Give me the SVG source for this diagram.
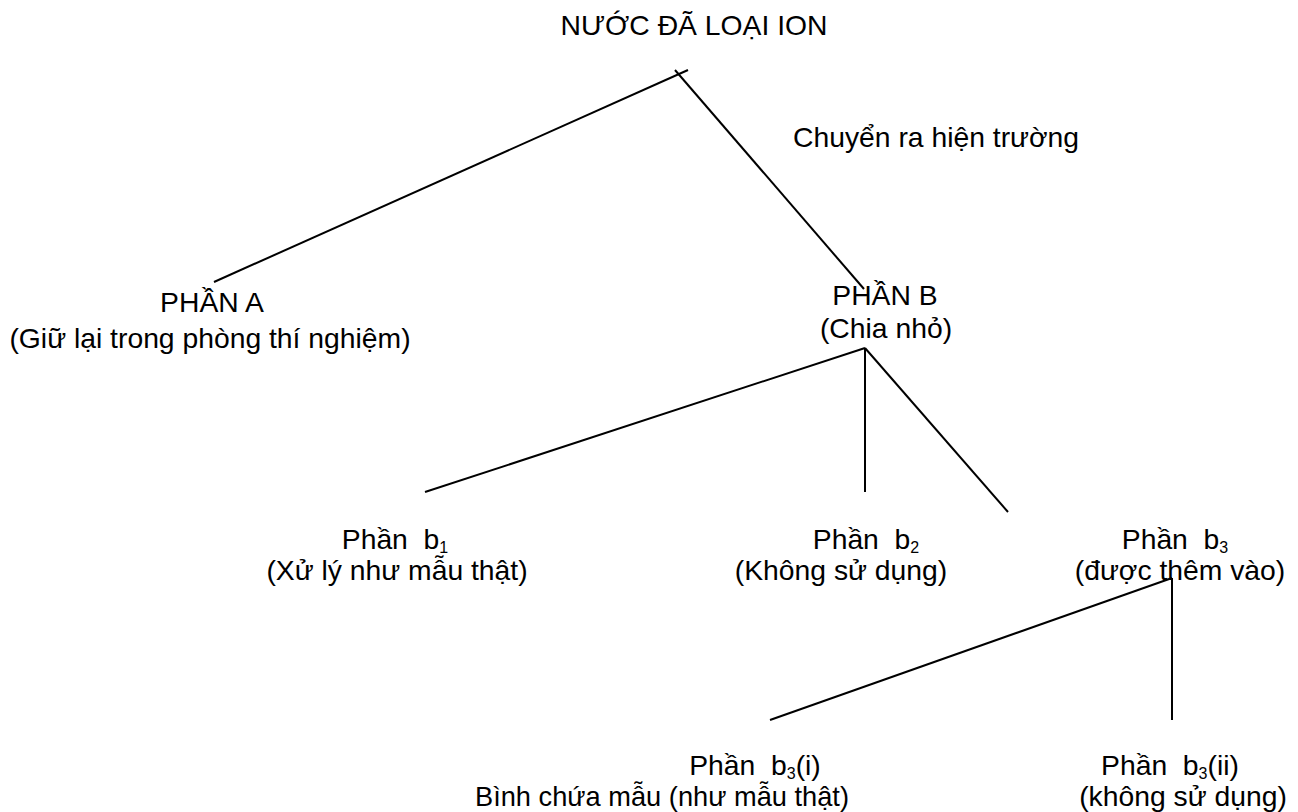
<svg xmlns="http://www.w3.org/2000/svg" width="1298" height="812" viewBox="0 0 1298 812">
<style>
text{font-family:"Liberation Sans",Arial,sans-serif;font-size:28.3px;fill:#000;white-space:pre}
.m{text-anchor:middle}
.sub{font-size:16px}
line{stroke:#000;stroke-width:2}
</style>
<rect width="1298" height="812" fill="#fff"/>
<g id="connectors">
<line x1="214" y1="282" x2="688" y2="70"/>
<line x1="675" y1="70" x2="864" y2="289"/>
<line x1="865" y1="348" x2="425" y2="492"/>
<line x1="865" y1="348" x2="865" y2="492"/>
<line x1="865" y1="348" x2="1008" y2="512"/>
<line x1="1172" y1="578" x2="770" y2="720"/>
<line x1="1172" y1="578" x2="1172" y2="720"/>
</g>
<g id="root"><text class="m" x="694" y="35">NƯỚC ĐÃ LOẠI ION</text></g>
<g id="label-transfer"><text x="793" y="147">Chuyển ra hiện trường</text></g>
<g id="partA"><text class="m" x="212" y="312">PHẦN A</text><text class="m" x="210" y="348">(Giữ lại trong phòng thí nghiệm)</text></g>
<g id="partB"><text class="m" x="885" y="305">PHẦN B</text><text class="m" x="886" y="338">(Chia nhỏ)</text></g>
<g id="b1"><text class="m" x="395" y="549">Phần  b<tspan class="sub" dy="4">1</tspan></text><text class="m" x="397" y="580">(Xử lý như mẫu thật)</text></g>
<g id="b2"><text class="m" x="866" y="549">Phần  b<tspan class="sub" dy="4">2</tspan></text><text class="m" x="841" y="580">(Không sử dụng)</text></g>
<g id="b3"><text class="m" x="1175" y="549">Phần  b<tspan class="sub" dy="4">3</tspan></text><text class="m" x="1180" y="580">(được thêm vào)</text></g>
<g id="b3i"><text class="m" x="755" y="775">Phần  b<tspan class="sub" dy="4">3</tspan><tspan dy="-4">(i)</tspan></text><text class="m" x="662" y="806" textLength="374" lengthAdjust="spacingAndGlyphs">Bình chứa mẫu (như mẫu thật)</text></g>
<g id="b3ii"><text class="m" x="1170" y="775">Phần  b<tspan class="sub" dy="4">3</tspan><tspan dy="-4">(ii)</tspan></text><text class="m" x="1183" y="806">(không sử dụng)</text></g>
</svg>
